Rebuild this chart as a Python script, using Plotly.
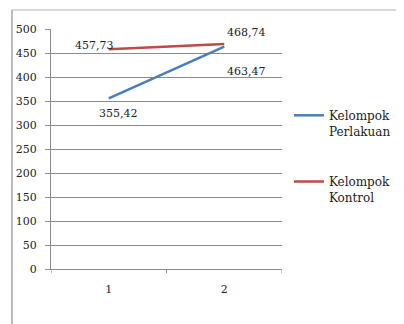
import plotly.graph_objects as go

categories = [1, 2]
perlakuan = [355.42, 463.47]
kontrol = [457.73, 468.74]
y_ticks = [0, 50, 100, 150, 200, 250, 300, 350, 400, 450, 500]

BLUE = "#4A7EBB"
RED = "#BE4B48"
GRID = "#8C8C8C"
FONT = "DejaVu Serif, Liberation Serif, serif"


def fmt(v):
    return f"{v:.2f}".replace(".", ",")


fig = go.Figure()
fig.add_trace(go.Scatter(
    x=categories, y=perlakuan, mode="lines",
    name="Kelompok<br>Perlakuan",
    line=dict(color=BLUE, width=2.5),
    legendgroup="a",
))
fig.add_trace(go.Scatter(
    x=categories, y=kontrol, mode="lines",
    name="Kelompok<br>Kontrol",
    line=dict(color=RED, width=2.5),
    legendgroup="b",
))

# data labels, offsets tuned by eye
label_offsets = {
    "p": [(10, -15), (22, -25)],
    "k": [(-14, 4), (22, 12)],
}
for i, x in enumerate(categories):
    dx, dy = label_offsets["p"][i]
    fig.add_annotation(x=x, y=perlakuan[i], text=fmt(perlakuan[i]),
                       showarrow=False, xshift=dx, yshift=dy,
                       font=dict(size=11, color="#222222", family=FONT))
    dx, dy = label_offsets["k"][i]
    fig.add_annotation(x=x, y=kontrol[i], text=fmt(kontrol[i]),
                       showarrow=False, xshift=dx, yshift=dy,
                       font=dict(size=11, color="#222222", family=FONT))

# outer frame of the (cropped) chart box
fig.add_shape(type="line", xref="paper", yref="paper",
              x0=-0.169, x1=1.6, y0=1.079, y1=1.079,
              line=dict(color="#D9D9D9", width=2))
fig.add_shape(type="line", xref="paper", yref="paper",
              x0=-0.169, x1=-0.169, y0=1.079, y1=-0.3,
              line=dict(color="#A6A6A6", width=1.5))

# page has an 8px body margin, so the figure is offset by that
fig.update_layout(
    width=404, height=324,
    margin=dict(l=43, r=130, t=21, b=63),
    paper_bgcolor="white",
    plot_bgcolor="white",
    font=dict(family=FONT, size=11, color="#222222"),
    showlegend=True,
    legend=dict(
        x=1.03, y=0.7, xanchor="left", yanchor="top",
        valign="top",
        tracegroupgap=32,
        traceorder="grouped",
        itemwidth=30,
        font=dict(size=12, family=FONT, color="#222222"),
        bgcolor="rgba(0,0,0,0)",
    ),
)
fig.update_xaxes(
    range=[0.5, 2.5],
    tickvals=categories,
    ticktext=[str(c) for c in categories],
    showgrid=False,
    showline=True, linecolor=GRID, linewidth=1,
    ticks="",
    tickfont=dict(size=11),
    ticklabelstandoff=10,
    zeroline=False,
    automargin=False,
)
# tick marks between categories on x axis
for xv in [0.5, 1.5, 2.5]:
    fig.add_shape(type="line", xref="x", yref="paper",
                  x0=xv, x1=xv, y0=0, y1=-0.018,
                  line=dict(color=GRID, width=1))
fig.update_yaxes(
    range=[0, 500],
    tickvals=y_ticks,
    showgrid=True, gridcolor=GRID, gridwidth=1,
    showline=True, linecolor=GRID, linewidth=1,
    ticks="outside", ticklen=5, tickcolor=GRID,
    tickfont=dict(size=11),
    ticklabelstandoff=6,
    zeroline=False,
    automargin=False,
)

fig.write_html("out.html")
